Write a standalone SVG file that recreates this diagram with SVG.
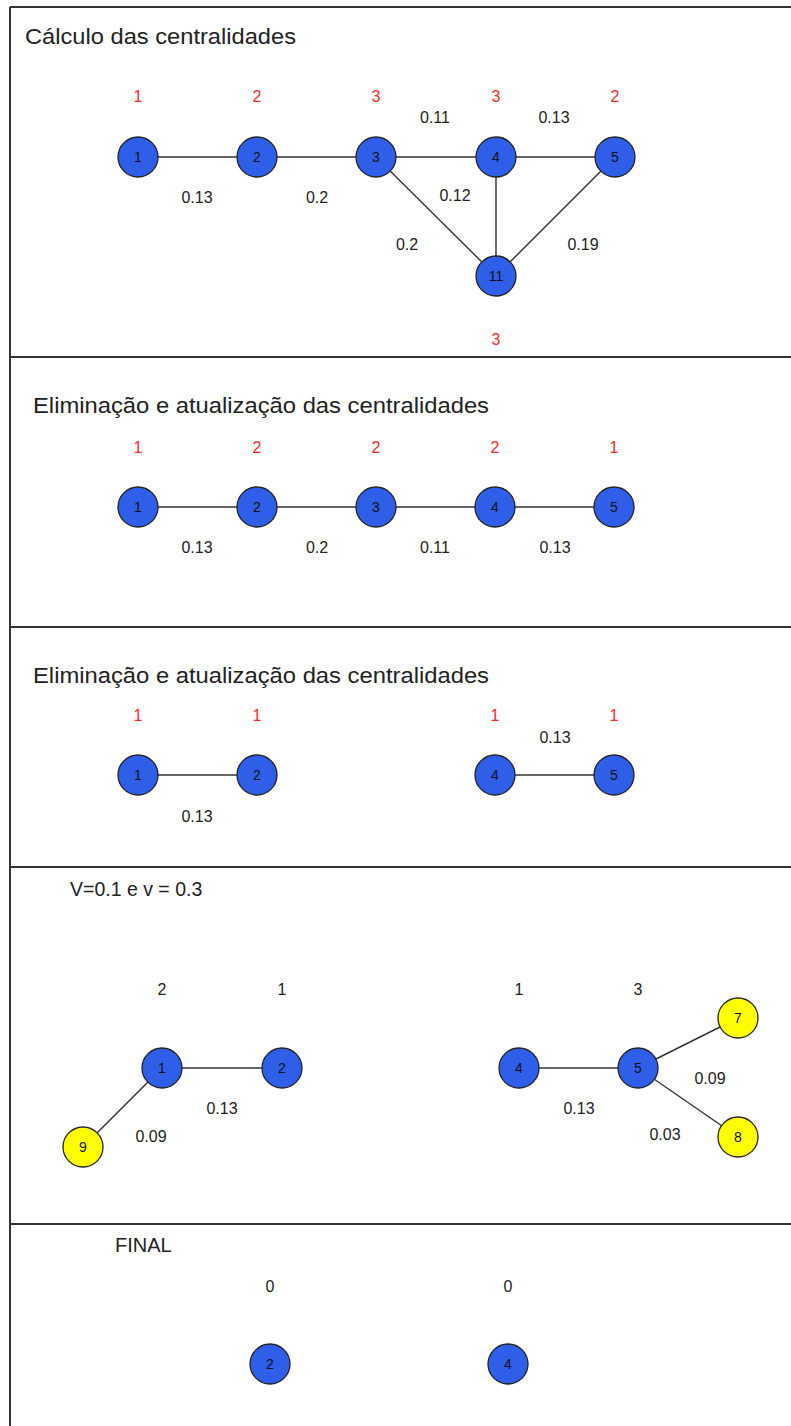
<svg xmlns="http://www.w3.org/2000/svg" width="791" height="1426" viewBox="0 0 791 1426">
<style>
text{font-family:"Liberation Sans",Arial,Helvetica,sans-serif;}
.bg{fill:#ffffff;}
.frame{stroke:#333333;stroke-width:2;fill:none;}
.edge{stroke:#333333;stroke-width:1.4;fill:none;}
.n circle{stroke:#222222;stroke-width:1.3;}
.b circle{fill:#2f5fe8;}
.y circle{fill:#ffff00;}
.n text{font-size:14px;fill:#111111;text-anchor:middle;}
.title{font-size:22px;fill:#222222;}
.red{font-size:16px;fill:#ff2a2a;text-anchor:middle;}
.lbl{font-size:16px;fill:#222222;text-anchor:middle;}
</style>
<rect class="bg" x="0" y="0" width="791" height="1426"/>
<g id="frames">
<line class="frame" x1="10" y1="7" x2="791" y2="7"/>
<line class="frame" x1="10" y1="7" x2="10" y2="1426"/>
<line class="frame" x1="10" y1="357" x2="791" y2="357"/>
<line class="frame" x1="10" y1="627" x2="791" y2="627"/>
<line class="frame" x1="10" y1="867" x2="791" y2="867"/>
<line class="frame" x1="10" y1="1224" x2="791" y2="1224"/>
</g>
<g id="titles">
<text class="title" x="25" y="44" textLength="271" lengthAdjust="spacingAndGlyphs">Cálculo das centralidades</text>
<text class="title" x="33" y="413" textLength="456" lengthAdjust="spacingAndGlyphs">Eliminação e atualização das centralidades</text>
<text class="title" x="33" y="683" textLength="456" lengthAdjust="spacingAndGlyphs">Eliminação e atualização das centralidades</text>
<text class="title" x="70" y="896" style="font-size:19.5px">V=0.1 e v = 0.3</text>
<text class="title" x="115" y="1252" style="font-size:20px">FINAL</text>
</g>
<g id="connectors">
<line class="edge" x1="138" y1="157" x2="257" y2="157"/>
<line class="edge" x1="257" y1="157" x2="376" y2="157"/>
<line class="edge" x1="376" y1="157" x2="496" y2="157"/>
<line class="edge" x1="496" y1="157" x2="615" y2="157"/>
<line class="edge" x1="376" y1="157" x2="496" y2="276"/>
<line class="edge" x1="496" y1="157" x2="496" y2="276"/>
<line class="edge" x1="615" y1="157" x2="496" y2="276"/>
<line class="edge" x1="138" y1="507" x2="614" y2="507"/>
<line class="edge" x1="138" y1="775" x2="257" y2="775"/>
<line class="edge" x1="495" y1="775" x2="614" y2="775"/>
<line class="edge" x1="162" y1="1068" x2="282" y2="1068"/>
<line class="edge" x1="162" y1="1068" x2="83" y2="1147"/>
<line class="edge" x1="519" y1="1068" x2="638" y2="1068"/>
<line class="edge" x1="638" y1="1068" x2="738" y2="1018"/>
<line class="edge" x1="638" y1="1068" x2="738" y2="1137"/>
</g>
<g id="labels">
<text class="red" x="138" y="102">1</text>
<text class="red" x="257" y="102">2</text>
<text class="red" x="376" y="102">3</text>
<text class="red" x="496" y="102">3</text>
<text class="red" x="615" y="102">2</text>
<text class="red" x="496" y="345">3</text>
<text class="lbl" x="435" y="123">0.11</text>
<text class="lbl" x="554" y="123">0.13</text>
<text class="lbl" x="455" y="201">0.12</text>
<text class="lbl" x="407" y="250">0.2</text>
<text class="lbl" x="583" y="250">0.19</text>
<text class="lbl" x="197" y="203">0.13</text>
<text class="lbl" x="317" y="203">0.2</text>
<text class="red" x="138" y="453">1</text>
<text class="red" x="257" y="453">2</text>
<text class="red" x="376" y="453">2</text>
<text class="red" x="495" y="453">2</text>
<text class="red" x="614" y="453">1</text>
<text class="lbl" x="197" y="553">0.13</text>
<text class="lbl" x="317" y="553">0.2</text>
<text class="lbl" x="435" y="553">0.11</text>
<text class="lbl" x="555" y="553">0.13</text>
<text class="red" x="138" y="721">1</text>
<text class="red" x="257" y="721">1</text>
<text class="red" x="495" y="721">1</text>
<text class="red" x="614" y="721">1</text>
<text class="lbl" x="555" y="743">0.13</text>
<text class="lbl" x="197" y="822">0.13</text>
<text class="lbl" x="162" y="995">2</text>
<text class="lbl" x="282" y="995">1</text>
<text class="lbl" x="519" y="995">1</text>
<text class="lbl" x="638" y="995">3</text>
<text class="lbl" x="222" y="1114">0.13</text>
<text class="lbl" x="151" y="1142">0.09</text>
<text class="lbl" x="710" y="1084">0.09</text>
<text class="lbl" x="579" y="1114">0.13</text>
<text class="lbl" x="665" y="1140">0.03</text>
<text class="lbl" x="270" y="1292">0</text>
<text class="lbl" x="508" y="1292">0</text>
</g>
<g id="p1-n1" class="n b"><circle cx="138" cy="157" r="20"/><text x="138" y="162">1</text></g>
<g id="p1-n2" class="n b"><circle cx="257" cy="157" r="20"/><text x="257" y="162">2</text></g>
<g id="p1-n3" class="n b"><circle cx="376" cy="157" r="20"/><text x="376" y="162">3</text></g>
<g id="p1-n4" class="n b"><circle cx="496" cy="157" r="20"/><text x="496" y="162">4</text></g>
<g id="p1-n5" class="n b"><circle cx="615" cy="157" r="20"/><text x="615" y="162">5</text></g>
<g id="p1-n11" class="n b"><circle cx="496" cy="276" r="20"/><text x="496" y="281">11</text></g>
<g id="p2-n1" class="n b"><circle cx="138" cy="507" r="20"/><text x="138" y="512">1</text></g>
<g id="p2-n2" class="n b"><circle cx="257" cy="507" r="20"/><text x="257" y="512">2</text></g>
<g id="p2-n3" class="n b"><circle cx="376" cy="507" r="20"/><text x="376" y="512">3</text></g>
<g id="p2-n4" class="n b"><circle cx="495" cy="507" r="20"/><text x="495" y="512">4</text></g>
<g id="p2-n5" class="n b"><circle cx="614" cy="507" r="20"/><text x="614" y="512">5</text></g>
<g id="p3-n1" class="n b"><circle cx="138" cy="775" r="20"/><text x="138" y="780">1</text></g>
<g id="p3-n2" class="n b"><circle cx="257" cy="775" r="20"/><text x="257" y="780">2</text></g>
<g id="p3-n4" class="n b"><circle cx="495" cy="775" r="20"/><text x="495" y="780">4</text></g>
<g id="p3-n5" class="n b"><circle cx="614" cy="775" r="20"/><text x="614" y="780">5</text></g>
<g id="p4-n1" class="n b"><circle cx="162" cy="1068" r="20"/><text x="162" y="1073">1</text></g>
<g id="p4-n2" class="n b"><circle cx="282" cy="1068" r="20"/><text x="282" y="1073">2</text></g>
<g id="p4-n9" class="n y"><circle cx="83" cy="1147" r="20"/><text x="83" y="1152">9</text></g>
<g id="p4-n4" class="n b"><circle cx="519" cy="1068" r="20"/><text x="519" y="1073">4</text></g>
<g id="p4-n5" class="n b"><circle cx="638" cy="1068" r="20"/><text x="638" y="1073">5</text></g>
<g id="p4-n7" class="n y"><circle cx="738" cy="1018" r="20"/><text x="738" y="1023">7</text></g>
<g id="p4-n8" class="n y"><circle cx="738" cy="1137" r="20"/><text x="738" y="1142">8</text></g>
<g id="p5-n2" class="n b"><circle cx="270" cy="1364" r="20"/><text x="270" y="1369">2</text></g>
<g id="p5-n4" class="n b"><circle cx="508" cy="1364" r="20"/><text x="508" y="1369">4</text></g>
</svg>
